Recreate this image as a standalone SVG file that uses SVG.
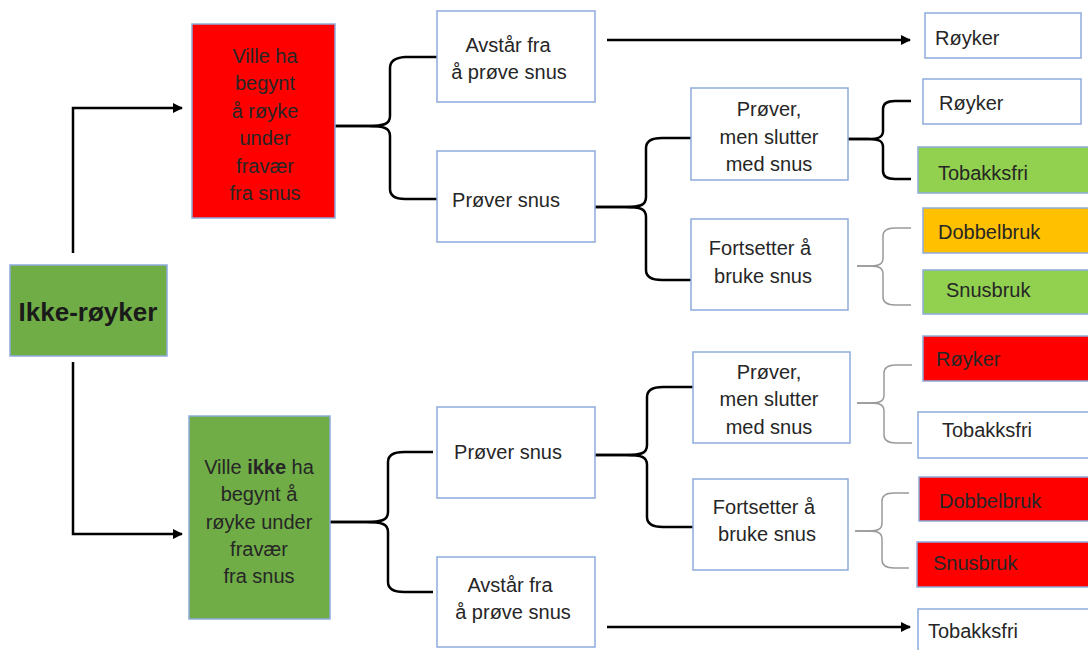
<svg xmlns="http://www.w3.org/2000/svg" width="1088" height="650" viewBox="0 0 1088 650">
<style>
text{font-family:"Liberation Sans",Arial,sans-serif;font-size:20px;fill:#262626}
.c{text-anchor:middle}
.box{stroke:#8faadc;stroke-width:1.5}
.w{fill:#ffffff}
.red{fill:#ff0000}
.lg{fill:#92d050}
.dg{fill:#70ad47}
.or{fill:#ffc000}
.br{fill:none;stroke:#000;stroke-width:2.5}
.gb{fill:none;stroke:#9a9a9a;stroke-width:1.5}
.ar{fill:none;stroke:#000;stroke-width:2.5}
</style>
<defs>
<marker id="ah" viewBox="0 0 10 10" refX="9" refY="5" markerWidth="4" markerHeight="4" orient="auto" markerUnits="strokeWidth">
<path d="M0,0 L10,5 L0,10 z" fill="#000"/>
</marker>
</defs>
<rect width="1088" height="650" fill="#ffffff"/>

<g id="connectors">
<path class="ar" d="M73,253 V108 H182" marker-end="url(#ah)"/>
<path class="ar" d="M73,362 V534 H182" marker-end="url(#ah)"/>
<path class="ar" d="M607,40 H910" marker-end="url(#ah)"/>
<path class="ar" d="M607,627 H910" marker-end="url(#ah)"/>
<path class="br" d="M335,126 H368 C384,126 390,124 390,116 V68 Q390,58 405,57 H437"/>
<path class="br" d="M335,126 H368 C384,126 390,128 390,136 V189 Q390,199 405,199 H437"/>
<path class="br" d="M592,207 H625 C641,207 646,205 646,197 V148 Q646,138 662,138 H691"/>
<path class="br" d="M592,207 H625 C641,207 646,209 646,217 V270 Q646,280 662,280 H691"/>
<path class="br" d="M848,139 H868 C879,139 883,137 883,131 V109 Q883,101 895,101 H911"/>
<path class="br" d="M848,139 H868 C879,139 883,141 883,147 V171 Q883,179 895,179 H911"/>
<path class="gb" d="M857,266 H870 C879,266 883,264 883,258 V236 Q883,228 895,228 H911"/>
<path class="gb" d="M857,266 H870 C879,266 883,268 883,274 V297 Q883,305 895,305 H911"/>
<path class="br" d="M330,522 H366 C382,522 388,520 388,512 V462 Q388,452 404,452 H433"/>
<path class="br" d="M330,522 H366 C382,522 388,524 388,532 V582 Q388,592 404,592 H433"/>
<path class="br" d="M592,455 H626 C642,455 647,453 647,445 V397 Q647,387 663,387 H693"/>
<path class="br" d="M592,455 H626 C642,455 647,457 647,465 V517 Q647,527 663,527 H693"/>
<path class="gb" d="M857,403 H871 C880,403 884,401 884,395 V373 Q884,365 896,365 H912"/>
<path class="gb" d="M857,403 H871 C880,403 884,405 884,411 V435 Q884,443 896,443 H912"/>
<path class="gb" d="M855,531 H869 C878,531 882,529 882,523 V501 Q882,493 894,493 H909"/>
<path class="gb" d="M855,531 H869 C878,531 882,533 882,539 V560 Q882,568 894,568 H909"/>
</g>

<g id="ikke-royker">
<rect class="box dg" x="10" y="265" width="157" height="91"/>
<text class="c" x="88" y="321" style="font-size:26px;font-weight:bold;fill:#1a1a1a">Ikke-røyker</text>
</g>

<g id="ville-ha">
<rect class="box red" x="192" y="24" width="143" height="194"/>
<text class="c" x="265" y="63">Ville ha</text>
<text class="c" x="265" y="90">begynt</text>
<text class="c" x="265" y="118">å røyke</text>
<text class="c" x="265" y="145">under</text>
<text class="c" x="265" y="173">fravær</text>
<text class="c" x="265" y="200">fra snus</text>
</g>

<g id="ville-ikke">
<rect class="box dg" x="189" y="416" width="141" height="203"/>
<text class="c" x="259" y="474">Ville <tspan font-weight="bold">ikke</tspan> ha</text>
<text class="c" x="259" y="501">begynt å</text>
<text class="c" x="259" y="529">røyke under</text>
<text class="c" x="259" y="556">fravær</text>
<text class="c" x="259" y="583">fra snus</text>
</g>

<g id="avstar-top">
<rect class="box w" x="437" y="11" width="158" height="91"/>
<text class="c" x="508" y="52">Avstår fra</text>
<text class="c" x="509" y="79">å prøve snus</text>
</g>

<g id="prover-top">
<rect class="box w" x="437" y="151" width="158" height="91"/>
<text class="c" x="506" y="207">Prøver snus</text>
</g>

<g id="prover-bottom">
<rect class="box w" x="437" y="407" width="158" height="91"/>
<text class="c" x="508" y="459">Prøver snus</text>
</g>

<g id="avstar-bottom">
<rect class="box w" x="437" y="557" width="158" height="90"/>
<text class="c" x="510" y="592">Avstår fra</text>
<text class="c" x="513" y="619">å prøve snus</text>
</g>

<g id="slutter-top">
<rect class="box w" x="691" y="88" width="157" height="92"/>
<text class="c" x="769" y="116">Prøver,</text>
<text class="c" x="769" y="144">men slutter</text>
<text class="c" x="769" y="171">med snus</text>
</g>

<g id="fortsetter-top">
<rect class="box w" x="691" y="219" width="157" height="91"/>
<text class="c" x="760" y="255">Fortsetter å</text>
<text class="c" x="763" y="283">bruke snus</text>
</g>

<g id="slutter-bottom">
<rect class="box w" x="693" y="352" width="157" height="91"/>
<text class="c" x="769" y="379">Prøver,</text>
<text class="c" x="769" y="406">men slutter</text>
<text class="c" x="769" y="434">med snus</text>
</g>

<g id="fortsetter-bottom">
<rect class="box w" x="693" y="479" width="155" height="91"/>
<text class="c" x="764" y="514">Fortsetter å</text>
<text class="c" x="767" y="541">bruke snus</text>
</g>

<g id="r1"><rect class="box w" x="925" y="13" width="156" height="45"/><text x="935" y="45">Røyker</text></g>
<g id="r2"><rect class="box w" x="923" y="79" width="158" height="45"/><text x="939" y="110">Røyker</text></g>
<g id="r3"><rect class="box lg" x="918" y="147" width="172" height="46"/><text x="938" y="180">Tobakksfri</text></g>
<g id="r4"><rect class="box or" x="923" y="208" width="167" height="45"/><text x="938" y="239">Dobbelbruk</text></g>
<g id="r5"><rect class="box lg" x="923" y="270" width="167" height="44"/><text x="946" y="297">Snusbruk</text></g>
<g id="r6"><rect class="box red" x="923" y="336" width="167" height="45"/><text x="936" y="366">Røyker</text></g>
<g id="r7"><rect class="box w" x="918" y="412" width="172" height="46"/><text x="942" y="437">Tobakksfri</text></g>
<g id="r8"><rect class="box red" x="919" y="477" width="171" height="44"/><text x="939" y="508">Dobbelbruk</text></g>
<g id="r9"><rect class="box red" x="917" y="542" width="173" height="45"/><text x="933" y="570">Snusbruk</text></g>
<g id="r10"><rect class="box w" x="918" y="609" width="172" height="45"/><text x="928" y="638">Tobakksfri</text></g>
</svg>
